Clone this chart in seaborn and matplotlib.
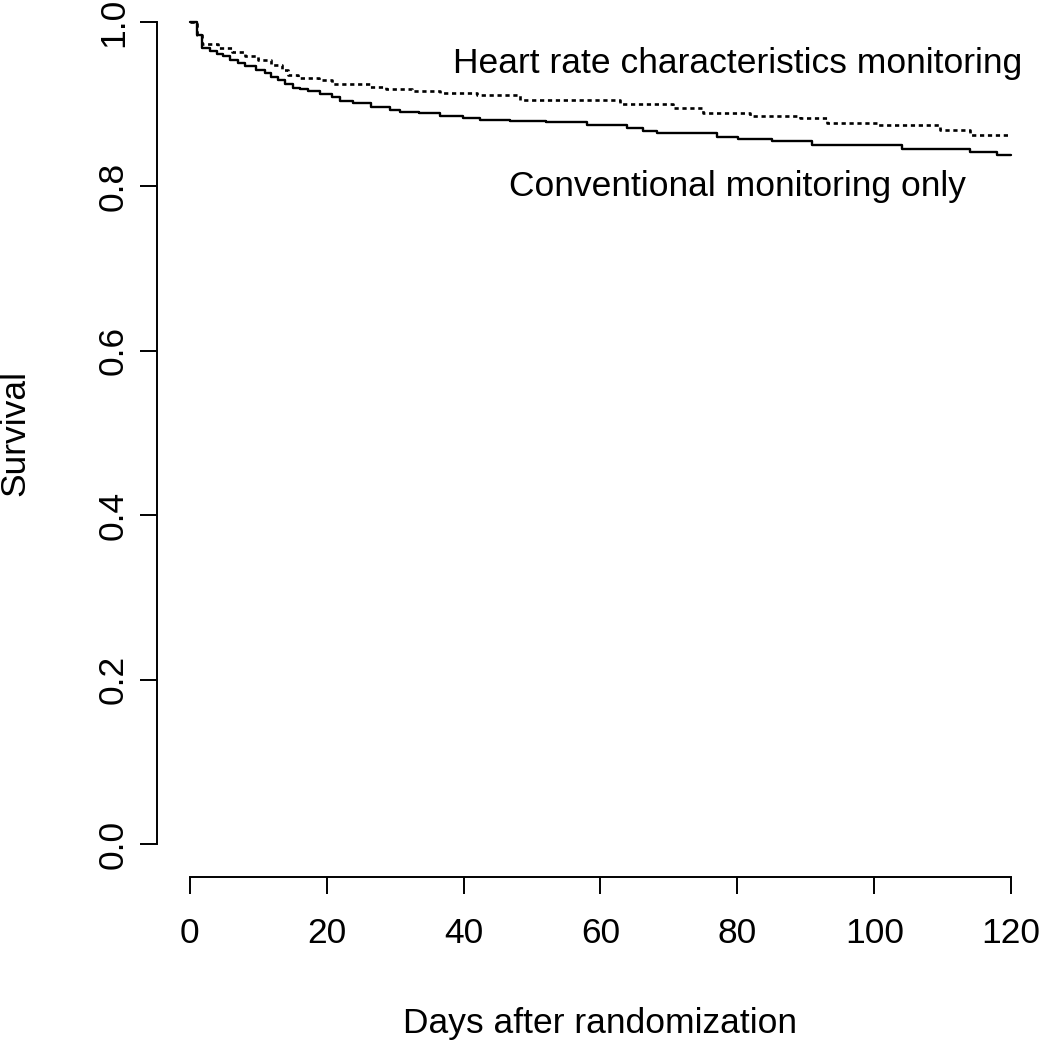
import matplotlib

matplotlib.use("Agg")
import matplotlib.pyplot as plt
import pandas as pd
import seaborn as sns

# Kaplan-Meier steps (day of step, survival after step)
conv_days = [0, 1.0, 1.8, 2.9, 3.9, 4.9, 5.8, 7.1, 8.0, 9.7, 11.0, 11.9, 12.9, 13.9,
             15.1, 16.1, 17.3, 19.0, 20.7, 21.9, 23.9, 26.5, 29.2, 30.7, 33.5, 36.5,
             39.9, 42.4, 46.8, 52.0, 58.0, 63.8, 66.2, 68.2, 77.0, 80.1, 85.0, 90.9,
             104.0, 114.0, 117.9, 120]
conv_surv = [1.0, 0.984, 0.968, 0.965, 0.961, 0.958, 0.954, 0.950, 0.946, 0.942, 0.938,
             0.933, 0.929, 0.925, 0.920, 0.918, 0.916, 0.912, 0.909, 0.904, 0.901, 0.897,
             0.893, 0.891, 0.889, 0.886, 0.883, 0.881, 0.879, 0.878, 0.875, 0.871, 0.867,
             0.865, 0.860, 0.858, 0.855, 0.850, 0.846, 0.842, 0.838, 0.838]

hrc_days = [0, 1.0, 1.8, 4.1, 6.1, 8.0, 10.0, 11.9, 13.4, 14.4, 15.8, 18.8, 20.7, 26.3,
            28.7, 32.5, 36.5, 41.9, 48.2, 62.8, 70.6, 75.0, 81.8, 89.2, 93.1, 100.4,
            109.6, 114.0, 120]
hrc_surv = [1.0, 0.984, 0.973, 0.968, 0.963, 0.959, 0.954, 0.948, 0.942, 0.936, 0.932,
            0.929, 0.925, 0.921, 0.918, 0.916, 0.913, 0.911, 0.905, 0.900, 0.895, 0.889,
            0.885, 0.883, 0.877, 0.875, 0.869, 0.863, 0.863]

labels = ["Heart rate characteristics monitoring", "Conventional monitoring only"]
x_ticks = [0, 20, 40, 60, 80, 100, 120]
y_ticks = [0.0, 0.2, 0.4, 0.6, 0.8, 1.0]

sns.set_style("white")
plt.rcParams["font.family"] = ["Liberation Sans", "DejaVu Sans"]
plt.rcParams["text.color"] = "black"
plt.rcParams["xtick.color"] = "black"
plt.rcParams["ytick.color"] = "black"
FS = 25.5

df = pd.concat([
    pd.DataFrame({"day": conv_days, "surv": conv_surv, "group": labels[1]}),
    pd.DataFrame({"day": hrc_days, "surv": hrc_surv, "group": labels[0]}),
])

fig = plt.figure(figsize=(10.39, 10.50), dpi=100)
# R-style plot region (4% padding on each axis)
ax = fig.add_axes([157 / 1039, 1 - 877 / 1050, 887 / 1039, 888 / 1050])

sns.lineplot(data=df[df.group == labels[1]], x="day", y="surv", ax=ax,
             drawstyle="steps-post", color="black", lw=1.7, estimator=None)
sns.lineplot(data=df[df.group == labels[0]], x="day", y="surv", ax=ax,
             drawstyle="steps-post", color="black", lw=1.9, estimator=None,
             linestyle=(0, (1.6, 1.4)))

ax.set_xlim(-4.8, 124.8)
ax.set_ylim(-0.04, 1.04)
ax.set_xticks(x_ticks)
ax.set_yticks(y_ticks)
ax.set_xticklabels([str(t) for t in x_ticks], fontsize=FS)
ax.set_yticklabels([f"{t:.1f}" for t in y_ticks], fontsize=FS, rotation=90, va="center")
ax.tick_params(axis="both", direction="out", length=12.5, width=1.4,
               left=True, bottom=True)
ax.tick_params(axis="x", pad=16)
ax.tick_params(axis="y", pad=7)

for s in ["top", "right"]:
    ax.spines[s].set_visible(False)
for s in ["left", "bottom"]:
    ax.spines[s].set_linewidth(1.4)
    ax.spines[s].set_color("black")
ax.spines["left"].set_bounds(0, 1)
ax.spines["bottom"].set_bounds(0, 120)

ax.set_xlabel("")
ax.set_ylabel("")
ax.text(80, 0.95, labels[0], fontsize=FS, ha="center", va="center")
ax.text(80, 0.80, labels[1], fontsize=FS, ha="center", va="center")

fig.text(600 / 1039, 1 - 1023 / 1050, "Days after randomization", fontsize=FS,
         ha="center", va="center")
fig.text(15 / 1039, 1 - 433 / 1050, "Survival", fontsize=FS, ha="center",
         va="center", rotation=90)

fig.savefig("out.png", dpi=100)
